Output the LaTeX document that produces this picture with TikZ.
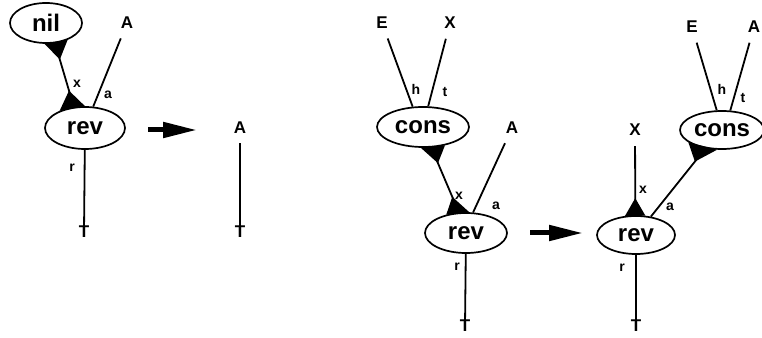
\documentclass[tikz,border=0pt]{standalone}
\usepackage{fontspec}
\setmainfont{Liberation Sans}
\usetikzlibrary{shapes,arrows.meta,calc}

\tikzset{
  agent/.style={draw, ellipse, line width=1.7pt, inner sep=0pt, font=\fontsize{24}{26}\selectfont\bfseries},
  term/.style={inner sep=1pt, font=\fontsize{17}{19}\selectfont\bfseries},
  port/.style={inner sep=0pt, font=\fontsize{14}{16}\selectfont\bfseries},
  wire/.style={line width=1.8pt},
  rewrite/.style={line width=5pt, -{Triangle[length=34pt,width=15pt]}}
}

\begin{document}
\begin{tikzpicture}[x=1pt,y=1pt]
\useasboundingbox (0,0) rectangle (762,337);
% rev nil a => a
\node[agent, minimum width=72pt, minimum height=40pt] (nil) at (46,314) {nil};
\node[agent, minimum width=80pt, minimum height=42pt] (rev1) at (85,209) {rev};
\node[term] (A1) at (127,314) {A};
\node[term, inner sep=0pt] (T1) at (84,105) {T};
\draw[wire] (nil.-66) -- (rev1.118);
\draw[wire, shorten <=9pt] (A1) -- (rev1.69);
\draw[wire] (rev1) -- (T1);
\node[port] (px1) at (77,253) {x};
\node[port] (pa1) at (108,242) {a};
\node[port] (pr1) at (72,169) {r};
\coordinate (go1) at (148,207);
\coordinate (to1) at (197,207);
\draw[rewrite] (go1) -- (to1);
\node[term] (A2) at (240,209) {A};
\node[term, inner sep=0pt] (T2) at (240,105) {T};
\draw[line width=1.4pt, shorten <=8pt] (A2) -- (T2);
% rev (cons e x) a => rev x (cons e a)
\node[agent, minimum width=92pt, minimum height=40pt] (cons3) at (423,210) {cons};
\node[agent, minimum width=82pt, minimum height=40pt] (rev3) at (466,104) {rev};
\node[term] (E3) at (382,314) {E};
\node[term] (X3) at (450,314) {X};
\node[term] (A4) at (512,209) {A};
\node[term, inner sep=0pt] (T3) at (465,11) {T};
\draw[wire, shorten <=9pt] (E3) -- (cons3.117);
\draw[wire, shorten <=9pt] (X3) -- (cons3.76);
\draw[wire, shorten <=9pt] (A4) -- (rev3.71);
\draw[wire] (cons3.-68) -- (rev3.109);
\draw[wire] (rev3) -- (T3);
\node[port] (ph3) at (416,248) {h};
\node[port] (pt3) at (445,245) {t};
\node[port] (px3) at (459,141) {x};
\node[port] (pa3) at (496,131) {a};
\node[port] (pr3) at (457,70) {r};
\coordinate (go2) at (530,104);
\coordinate (to2) at (583,104);
\draw[rewrite] (go2) -- (to2);
\node[agent, minimum width=84pt, minimum height=38pt] (cons5) at (722,207) {cons};
\node[agent, minimum width=78pt, minimum height=38pt] (rev7) at (636,102) {rev};
\node[term] (E5) at (692,310) {E};
\node[term] (A6) at (754,310) {A};
\node[term] (X7) at (635,207) {X};
\node[term, inner sep=0pt] (T7) at (636,11) {T};
\draw[wire, shorten <=9pt] (E5) -- (cons5.105);
\draw[wire, shorten <=9pt] (A6) -- (cons5.67);
\draw[wire, shorten <=9pt] (X7) -- (rev7.92);
\draw[wire] (rev7.51) -- (cons5.-132);
\draw[wire] (rev7) -- (T7);
\node[port] (ph5) at (722,248) {h};
\node[port] (pt5) at (743,239) {t};
\node[port] (px7) at (643,147) {x};
\node[port] (pa7) at (670,130) {a};
\node[port] (pr7) at (622,69) {r};
% principal ports
\foreach \n/\a/\t in {nil/-66/rev1.118, rev1/118/nil.-66, cons3/-68/rev3.109,
    rev3/109/cons3.-68, rev7/92/X7, cons5/-132/rev7.51} {
  \pgfmathtruncatemacro{\lo}{\a-28}
  \pgfmathtruncatemacro{\hi}{\a+28}
  \fill (\n.\lo) -- (\n.\hi) -- ($(\n.\a)!17pt!(\t)$) -- cycle;
}
\end{tikzpicture}
\end{document}
